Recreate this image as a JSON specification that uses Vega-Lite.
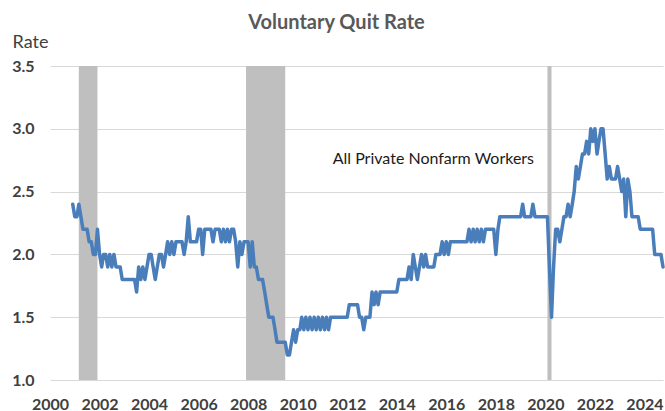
{
  "$schema": "https://vega.github.io/schema/vega-lite/v6.json",
  "width": 613,
  "height": 314,
  "autosize": {"type": "none"},
  "padding": {"left": 50, "top": 66, "right": 2, "bottom": 31},
  "background": "white",
  "title": {"text": "Voluntary Quit Rate", "anchor": "middle", "frame": "group", "dx": -20, "offset": 0, "fontSize": 20, "font": "Lato", "fontWeight": "bold", "color": "#595959"},
  "config": {"view": {"stroke": null}, "font": "Lato"},
  "layer": [
    {
      "data": {"values": [
        {"start": "2001-03-01", "end": "2001-12-01"},
        {"start": "2007-12-01", "end": "2009-07-01"},
        {"start": "2020-02-01", "end": "2020-04-01"}
      ]},
      "mark": {"type": "rect", "color": "#BFBFBF"},
      "encoding": {
        "x": {"field": "start", "type": "temporal"},
        "x2": {"field": "end"}
      }
    },
    {
      "data": {"values": [
        {"d":"2000-12-01","v":2.4},
        {"d":"2001-01-01","v":2.3},{"d":"2001-02-01","v":2.3},{"d":"2001-03-01","v":2.4},{"d":"2001-04-01","v":2.3},{"d":"2001-05-01","v":2.2},{"d":"2001-06-01","v":2.2},{"d":"2001-07-01","v":2.2},{"d":"2001-08-01","v":2.1},{"d":"2001-09-01","v":2.1},{"d":"2001-10-01","v":2.0},{"d":"2001-11-01","v":2.0},{"d":"2001-12-01","v":2.2},
        {"d":"2002-01-01","v":2.0},{"d":"2002-02-01","v":1.9},{"d":"2002-03-01","v":2.0},{"d":"2002-04-01","v":2.0},{"d":"2002-05-01","v":1.9},{"d":"2002-06-01","v":2.0},{"d":"2002-07-01","v":1.9},{"d":"2002-08-01","v":2.0},{"d":"2002-09-01","v":1.9},{"d":"2002-10-01","v":1.9},{"d":"2002-11-01","v":1.9},{"d":"2002-12-01","v":1.8},
        {"d":"2003-01-01","v":1.8},{"d":"2003-02-01","v":1.8},{"d":"2003-03-01","v":1.8},{"d":"2003-04-01","v":1.8},{"d":"2003-05-01","v":1.8},{"d":"2003-06-01","v":1.8},{"d":"2003-07-01","v":1.7},{"d":"2003-08-01","v":1.9},{"d":"2003-09-01","v":1.8},{"d":"2003-10-01","v":1.9},{"d":"2003-11-01","v":1.8},{"d":"2003-12-01","v":1.9},
        {"d":"2004-01-01","v":2.0},{"d":"2004-02-01","v":2.0},{"d":"2004-03-01","v":1.9},{"d":"2004-04-01","v":1.8},{"d":"2004-05-01","v":1.9},{"d":"2004-06-01","v":2.0},{"d":"2004-07-01","v":2.0},{"d":"2004-08-01","v":1.9},{"d":"2004-09-01","v":2.0},{"d":"2004-10-01","v":2.1},{"d":"2004-11-01","v":2.0},{"d":"2004-12-01","v":2.1},
        {"d":"2005-01-01","v":2.0},{"d":"2005-02-01","v":2.1},{"d":"2005-03-01","v":2.1},{"d":"2005-04-01","v":2.1},{"d":"2005-05-01","v":2.1},{"d":"2005-06-01","v":2.0},{"d":"2005-07-01","v":2.1},{"d":"2005-08-01","v":2.3},{"d":"2005-09-01","v":2.1},{"d":"2005-10-01","v":2.1},{"d":"2005-11-01","v":2.1},{"d":"2005-12-01","v":2.1},
        {"d":"2006-01-01","v":2.2},{"d":"2006-02-01","v":2.2},{"d":"2006-03-01","v":2.0},{"d":"2006-04-01","v":2.2},{"d":"2006-05-01","v":2.2},{"d":"2006-06-01","v":2.2},{"d":"2006-07-01","v":2.2},{"d":"2006-08-01","v":2.1},{"d":"2006-09-01","v":2.2},{"d":"2006-10-01","v":2.2},{"d":"2006-11-01","v":2.2},{"d":"2006-12-01","v":2.1},
        {"d":"2007-01-01","v":2.2},{"d":"2007-02-01","v":2.1},{"d":"2007-03-01","v":2.2},{"d":"2007-04-01","v":2.1},{"d":"2007-05-01","v":2.2},{"d":"2007-06-01","v":2.2},{"d":"2007-07-01","v":2.1},{"d":"2007-08-01","v":1.9},{"d":"2007-09-01","v":2.1},{"d":"2007-10-01","v":2.0},{"d":"2007-11-01","v":2.1},{"d":"2007-12-01","v":2.1},
        {"d":"2008-01-01","v":2.1},{"d":"2008-02-01","v":1.9},{"d":"2008-03-01","v":2.1},{"d":"2008-04-01","v":1.9},{"d":"2008-05-01","v":1.9},{"d":"2008-06-01","v":1.8},{"d":"2008-07-01","v":1.8},{"d":"2008-08-01","v":1.8},{"d":"2008-09-01","v":1.7},{"d":"2008-10-01","v":1.6},{"d":"2008-11-01","v":1.5},{"d":"2008-12-01","v":1.5},
        {"d":"2009-01-01","v":1.5},{"d":"2009-02-01","v":1.4},{"d":"2009-03-01","v":1.3},{"d":"2009-04-01","v":1.3},{"d":"2009-05-01","v":1.3},{"d":"2009-06-01","v":1.3},{"d":"2009-07-01","v":1.3},{"d":"2009-08-01","v":1.2},{"d":"2009-09-01","v":1.2},{"d":"2009-10-01","v":1.3},{"d":"2009-11-01","v":1.4},{"d":"2009-12-01","v":1.3},
        {"d":"2010-01-01","v":1.4},{"d":"2010-02-01","v":1.4},{"d":"2010-03-01","v":1.5},{"d":"2010-04-01","v":1.4},{"d":"2010-05-01","v":1.5},{"d":"2010-06-01","v":1.4},{"d":"2010-07-01","v":1.5},{"d":"2010-08-01","v":1.4},{"d":"2010-09-01","v":1.5},{"d":"2010-10-01","v":1.4},{"d":"2010-11-01","v":1.5},{"d":"2010-12-01","v":1.4},
        {"d":"2011-01-01","v":1.5},{"d":"2011-02-01","v":1.4},{"d":"2011-03-01","v":1.5},{"d":"2011-04-01","v":1.4},{"d":"2011-05-01","v":1.5},{"d":"2011-06-01","v":1.5},{"d":"2011-07-01","v":1.5},{"d":"2011-08-01","v":1.5},{"d":"2011-09-01","v":1.5},{"d":"2011-10-01","v":1.5},{"d":"2011-11-01","v":1.5},{"d":"2011-12-01","v":1.5},
        {"d":"2012-01-01","v":1.5},{"d":"2012-02-01","v":1.6},{"d":"2012-03-01","v":1.6},{"d":"2012-04-01","v":1.6},{"d":"2012-05-01","v":1.6},{"d":"2012-06-01","v":1.6},{"d":"2012-07-01","v":1.5},{"d":"2012-08-01","v":1.5},{"d":"2012-09-01","v":1.4},{"d":"2012-10-01","v":1.5},{"d":"2012-11-01","v":1.5},{"d":"2012-12-01","v":1.5},
        {"d":"2013-01-01","v":1.7},{"d":"2013-02-01","v":1.6},{"d":"2013-03-01","v":1.7},{"d":"2013-04-01","v":1.6},{"d":"2013-05-01","v":1.7},{"d":"2013-06-01","v":1.7},{"d":"2013-07-01","v":1.7},{"d":"2013-08-01","v":1.7},{"d":"2013-09-01","v":1.7},{"d":"2013-10-01","v":1.7},{"d":"2013-11-01","v":1.7},{"d":"2013-12-01","v":1.7},
        {"d":"2014-01-01","v":1.7},{"d":"2014-02-01","v":1.8},{"d":"2014-03-01","v":1.8},{"d":"2014-04-01","v":1.8},{"d":"2014-05-01","v":1.8},{"d":"2014-06-01","v":1.8},{"d":"2014-07-01","v":1.9},{"d":"2014-08-01","v":1.8},{"d":"2014-09-01","v":2.0},{"d":"2014-10-01","v":1.9},{"d":"2014-11-01","v":1.8},{"d":"2014-12-01","v":1.9},
        {"d":"2015-01-01","v":2.0},{"d":"2015-02-01","v":1.9},{"d":"2015-03-01","v":2.0},{"d":"2015-04-01","v":1.9},{"d":"2015-05-01","v":1.9},{"d":"2015-06-01","v":1.9},{"d":"2015-07-01","v":1.9},{"d":"2015-08-01","v":2.0},{"d":"2015-09-01","v":2.0},{"d":"2015-10-01","v":2.0},{"d":"2015-11-01","v":2.1},{"d":"2015-12-01","v":2.0},
        {"d":"2016-01-01","v":2.1},{"d":"2016-02-01","v":2.0},{"d":"2016-03-01","v":2.1},{"d":"2016-04-01","v":2.1},{"d":"2016-05-01","v":2.1},{"d":"2016-06-01","v":2.1},{"d":"2016-07-01","v":2.1},{"d":"2016-08-01","v":2.1},{"d":"2016-09-01","v":2.1},{"d":"2016-10-01","v":2.1},{"d":"2016-11-01","v":2.1},{"d":"2016-12-01","v":2.2},
        {"d":"2017-01-01","v":2.1},{"d":"2017-02-01","v":2.2},{"d":"2017-03-01","v":2.1},{"d":"2017-04-01","v":2.2},{"d":"2017-05-01","v":2.1},{"d":"2017-06-01","v":2.2},{"d":"2017-07-01","v":2.1},{"d":"2017-08-01","v":2.2},{"d":"2017-09-01","v":2.2},{"d":"2017-10-01","v":2.2},{"d":"2017-11-01","v":2.2},{"d":"2017-12-01","v":2.2},
        {"d":"2018-01-01","v":2.0},{"d":"2018-02-01","v":2.2},{"d":"2018-03-01","v":2.3},{"d":"2018-04-01","v":2.3},{"d":"2018-05-01","v":2.3},{"d":"2018-06-01","v":2.3},{"d":"2018-07-01","v":2.3},{"d":"2018-08-01","v":2.3},{"d":"2018-09-01","v":2.3},{"d":"2018-10-01","v":2.3},{"d":"2018-11-01","v":2.3},{"d":"2018-12-01","v":2.3},
        {"d":"2019-01-01","v":2.3},{"d":"2019-02-01","v":2.4},{"d":"2019-03-01","v":2.3},{"d":"2019-04-01","v":2.3},{"d":"2019-05-01","v":2.3},{"d":"2019-06-01","v":2.3},{"d":"2019-07-01","v":2.4},{"d":"2019-08-01","v":2.3},{"d":"2019-09-01","v":2.3},{"d":"2019-10-01","v":2.3},{"d":"2019-11-01","v":2.3},{"d":"2019-12-01","v":2.3},
        {"d":"2020-01-01","v":2.3},{"d":"2020-02-01","v":2.3},{"d":"2020-03-01","v":1.9},{"d":"2020-04-01","v":1.5},{"d":"2020-05-01","v":1.9},{"d":"2020-06-01","v":2.2},{"d":"2020-07-01","v":2.2},{"d":"2020-08-01","v":2.1},{"d":"2020-09-01","v":2.2},{"d":"2020-10-01","v":2.3},{"d":"2020-11-01","v":2.3},{"d":"2020-12-01","v":2.4},
        {"d":"2021-01-01","v":2.3},{"d":"2021-02-01","v":2.4},{"d":"2021-03-01","v":2.5},{"d":"2021-04-01","v":2.7},{"d":"2021-05-01","v":2.6},{"d":"2021-06-01","v":2.7},{"d":"2021-07-01","v":2.8},{"d":"2021-08-01","v":2.8},{"d":"2021-09-01","v":2.9},{"d":"2021-10-01","v":2.8},{"d":"2021-11-01","v":3.0},{"d":"2021-12-01","v":2.9},
        {"d":"2022-01-01","v":3.0},{"d":"2022-02-01","v":2.8},{"d":"2022-03-01","v":2.9},{"d":"2022-04-01","v":3.0},{"d":"2022-05-01","v":3.0},{"d":"2022-06-01","v":2.8},{"d":"2022-07-01","v":2.6},{"d":"2022-08-01","v":2.7},{"d":"2022-09-01","v":2.6},{"d":"2022-10-01","v":2.6},{"d":"2022-11-01","v":2.6},{"d":"2022-12-01","v":2.7},
        {"d":"2023-01-01","v":2.6},{"d":"2023-02-01","v":2.5},{"d":"2023-03-01","v":2.6},{"d":"2023-04-01","v":2.3},{"d":"2023-05-01","v":2.6},{"d":"2023-06-01","v":2.5},{"d":"2023-07-01","v":2.3},{"d":"2023-08-01","v":2.3},{"d":"2023-09-01","v":2.3},{"d":"2023-10-01","v":2.3},{"d":"2023-11-01","v":2.2},{"d":"2023-12-01","v":2.2},
        {"d":"2024-01-01","v":2.2},{"d":"2024-02-01","v":2.2},{"d":"2024-03-01","v":2.2},{"d":"2024-04-01","v":2.2},{"d":"2024-05-01","v":2.2},{"d":"2024-06-01","v":2.0},{"d":"2024-07-01","v":2.0},{"d":"2024-08-01","v":2.0},{"d":"2024-09-01","v":2.0},{"d":"2024-10-01","v":1.9}
      ]},
      "mark": {"type": "line", "color": "#4A7EBB", "strokeWidth": 3.5, "strokeJoin": "round", "strokeCap": "round"},
      "encoding": {
        "x": {
          "field": "d", "type": "temporal",
          "scale": {"type": "utc", "domain": [{"year": 2000, "month": 1, "date": 1, "utc": true}, {"year": 2024, "month": 10, "date": 1, "utc": true}]},
          "axis": {"title": null, "format": "%Y", "tickCount": {"interval": "year", "step": 2}, "grid": false, "domain": false, "ticks": false, "labelFlush": false, "labelOverlap": false, "labelPadding": 16, "labelFont": "Lato", "labelFontSize": 16, "labelFontWeight": "bold", "labelColor": "#404040"}
        },
        "y": {
          "field": "v", "type": "quantitative",
          "scale": {"domain": [1, 3.5], "nice": false, "zero": false},
          "axis": {"title": "Rate", "values": [1, 1.5, 2, 2.5, 3, 3.5], "format": ".1f", "grid": true, "gridColor": "#D9D9D9", "gridWidth": 1, "domain": false, "ticks": false, "labelPadding": 16, "labelFont": "Lato", "labelFontSize": 16, "labelFontWeight": "bold", "labelColor": "#404040", "titleAngle": 0, "titleX": -38, "titleY": -19, "titleAlign": "left", "titleBaseline": "alphabetic", "titleFont": "Lato", "titleFontSize": 18, "titleFontWeight": "normal", "titleColor": "#404040"}
        }
      }
    },
    {
      "data": {"values": [{"d": "2011-06-01", "v": 2.76, "label": "All Private Nonfarm Workers"}]},
      "mark": {"type": "text", "align": "left", "baseline": "middle", "fontSize": 16, "font": "Lato", "color": "#1a1a1a"},
      "encoding": {
        "x": {"field": "d", "type": "temporal"},
        "y": {"field": "v", "type": "quantitative"},
        "text": {"field": "label"}
      }
    }
  ]
}
